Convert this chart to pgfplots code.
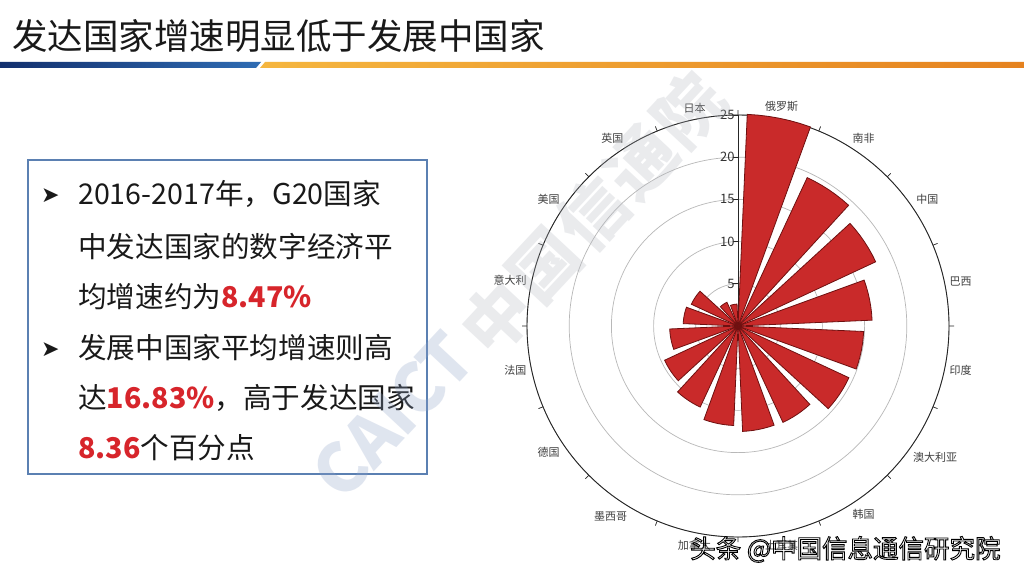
\documentclass[border=0pt]{standalone}
\usepackage{pgfplots}
\pgfplotsset{compat=1.18}
\usepgfplotslibrary{polar}
\usepackage{fontspec}
\setmainfont{Noto Sans CJK SC}
\newfontfamily\dejavu{DejaVu Sans}
\definecolor{barred}{HTML}{C92A2A}
\definecolor{bardark}{HTML}{6E1010}
\definecolor{numred}{HTML}{D7252B}
\definecolor{boxblue}{HTML}{5B80B2}
\definecolor{navy}{HTML}{13306E}
\definecolor{navy2}{HTML}{2F6CB3}
\definecolor{org1}{HTML}{F5B63F}
\definecolor{org2}{HTML}{E5821F}
\definecolor{wmgray}{HTML}{B4B8C0}
\definecolor{wmblue}{HTML}{8FA3C8}
\pgfplotsset{rosebar/.style={fill=barred, draw=bardark, line width=0.8pt, mark=none}}
\begin{document}
\begin{tikzpicture}[x=1pt,y=1pt]
\path[use as bounding box, fill=white] (0,0) rectangle (1024,576);
% title
\node[anchor=base west, inner sep=0, text=black!90] at (12,526) {\fontsize{35.5}{35.5}\selectfont 发达国家增速明显低于发展中国家};
\shade[left color=navy, right color=navy2] (0,508) -- (256,508) -- (261,514) -- (0,514) -- cycle;
\shade[left color=org1, right color=org2] (260,508) -- (1024,508) -- (1024,514) -- (265,514) -- cycle;
% text box
\draw[boxblue, line width=2.2pt] (28,102) rectangle (427,416);
\begin{scope}[every node/.style={anchor=base west, inner sep=0, font=\fontsize{28.6}{28.6}\selectfont, text=black!90}]
\node at (41,373) {\dejavu\fontsize{22}{22}\selectfont ➤};
\node at (41,220) {\dejavu\fontsize{22}{22}\selectfont ➤};
\node at (78,371) {2016-2017年，G20国家};
\node at (78,318) {中发达国家的数字经济平};
\node at (78,268) {均增速约为\textcolor{numred}{\bfseries 8.47\%}};
\node at (78,218) {发展中国家平均增速则高};
\node at (78,168) {达\textcolor{numred}{\bfseries 16.83\%}，高于发达国家};
\node at (78,118) {\textcolor{numred}{\bfseries 8.36}个百分点};
\end{scope}
% polar rose chart
\begin{polaraxis}[
  at={(738pt,250pt)}, anchor=center,
  scale only axis, width=422pt, height=422pt,
  xmin=90, xmax=450, ymin=0, ymax=25,
  clip=false,
  xtick={90,112.5,135,157.5,180,202.5,225,247.5,270,292.5,315,337.5,360,382.5,405,427.5},
  xticklabels={},
  extra x ticks={101.25,123.75,146.25,168.75,191.25,213.75,236.25,258.75,281.25,303.75,326.25,348.75,371.25,393.75,416.25,438.75},
  extra x tick labels={日本,英国,美国,意大利,法国,德国,墨西哥,加拿大,土耳其,韩国,澳大利亚,印度,巴西,中国,南非,俄罗斯},
  extra x tick style={major tick length=0pt, grid=none},
  xmajorgrids=false,
  ytick={5,10,15,20,25},
  ymajorgrids=true,
  y grid style={black!28, line width=0.7pt},
  axis line style={black!85, line width=0.9pt},
  major tick length=5pt,
  tick style={black!85, line width=0.7pt},
  xticklabel style={font=\fontsize{11}{11}\selectfont, text=black!75},
  yticklabel style={font=\fontsize{13}{13}\selectfont, text=black!80},
  /pgf/number format/assume math mode=true,
]
% 日本 2.6
\addplot[rosebar] coordinates {(92.5,0) (92.5,2.6) (95.42,2.6) (98.33,2.6) (101.25,2.6) (104.17,2.6) (107.08,2.6) (110,2.6) (110,0)};
% 英国 3.1
\addplot[rosebar] coordinates {(115,0) (115,3.1) (117.92,3.1) (120.83,3.1) (123.75,3.1) (126.67,3.1) (129.58,3.1) (132.5,3.1) (132.5,0)};
% 美国 6.1
\addplot[rosebar] coordinates {(137.5,0) (137.5,6.1) (140.42,6.1) (143.33,6.1) (146.25,6.1) (149.17,6.1) (152.08,6.1) (155,6.1) (155,0)};
% 意大利 6.5
\addplot[rosebar] coordinates {(160,0) (160,6.5) (162.92,6.5) (165.83,6.5) (168.75,6.5) (171.67,6.5) (174.58,6.5) (177.5,6.5) (177.5,0)};
% 法国 8.1
\addplot[rosebar] coordinates {(182.5,0) (182.5,8.1) (185.42,8.1) (188.33,8.1) (191.25,8.1) (194.17,8.1) (197.08,8.1) (200,8.1) (200,0)};
% 德国 9.6
\addplot[rosebar] coordinates {(205,0) (205,9.6) (207.92,9.6) (210.83,9.6) (213.75,9.6) (216.67,9.6) (219.58,9.6) (222.5,9.6) (222.5,0)};
% 墨西哥 10.6
\addplot[rosebar] coordinates {(227.5,0) (227.5,10.6) (230.42,10.6) (233.33,10.6) (236.25,10.6) (239.17,10.6) (242.08,10.6) (245,10.6) (245,0)};
% 加拿大 11.8
\addplot[rosebar] coordinates {(250,0) (250,11.8) (252.92,11.8) (255.83,11.8) (258.75,11.8) (261.67,11.8) (264.58,11.8) (267.5,11.8) (267.5,0)};
% 土耳其 12.5
\addplot[rosebar] coordinates {(272.5,0) (272.5,12.5) (275.42,12.5) (278.33,12.5) (281.25,12.5) (284.17,12.5) (287.08,12.5) (290,12.5) (290,0)};
% 韩国 12.6
\addplot[rosebar] coordinates {(295,0) (295,12.6) (297.92,12.6) (300.83,12.6) (303.75,12.6) (306.67,12.6) (309.58,12.6) (312.5,12.6) (312.5,0)};
% 澳大利亚 14.5
\addplot[rosebar] coordinates {(317.5,0) (317.5,14.5) (320.42,14.5) (323.33,14.5) (326.25,14.5) (329.17,14.5) (332.08,14.5) (335,14.5) (335,0)};
% 印度 14.9
\addplot[rosebar] coordinates {(340,0) (340,14.9) (342.92,14.9) (345.83,14.9) (348.75,14.9) (351.67,14.9) (354.58,14.9) (357.5,14.9) (357.5,0)};
% 巴西 15.9
\addplot[rosebar] coordinates {(362.5,0) (362.5,15.9) (365.42,15.9) (368.33,15.9) (371.25,15.9) (374.17,15.9) (377.08,15.9) (380,15.9) (380,0)};
% 中国 18.0
\addplot[rosebar] coordinates {(385,0) (385,18.0) (387.92,18.0) (390.83,18.0) (393.75,18.0) (396.67,18.0) (399.58,18.0) (402.5,18.0) (402.5,0)};
% 南非 19.4
\addplot[rosebar] coordinates {(407.5,0) (407.5,19.4) (410.42,19.4) (413.33,19.4) (416.25,19.4) (419.17,19.4) (422.08,19.4) (425,19.4) (425,0)};
% 俄罗斯 25.1
\addplot[rosebar] coordinates {(430,0) (430,25.1) (432.92,25.1) (435.83,25.1) (438.75,25.1) (441.67,25.1) (444.58,25.1) (447.5,25.1) (447.5,0)};
\end{polaraxis}
% watermark (faint, one glyph per node)
\begin{scope}[every node/.style={rotate=47, opacity=0.28, inner sep=0}]
\node[text=wmgray] at (497,258) {\fontsize{68}{68}\selectfont\bfseries 中};
\node[text=wmgray] at (545,310) {\fontsize{68}{68}\selectfont\bfseries 国};
\node[text=wmgray] at (593,362) {\fontsize{68}{68}\selectfont\bfseries 信};
\node[text=wmgray] at (641,414) {\fontsize{68}{68}\selectfont\bfseries 通};
\node[text=wmgray] at (689,466) {\fontsize{68}{68}\selectfont\bfseries 院};
\node[text=wmblue] at (340,106) {\fontsize{68}{68}\selectfont\bfseries C};
\node[text=wmblue] at (371,138) {\fontsize{68}{68}\selectfont\bfseries A};
\node[text=wmblue] at (394,162) {\fontsize{68}{68}\selectfont\bfseries I};
\node[text=wmblue] at (417,186) {\fontsize{68}{68}\selectfont\bfseries C};
\node[text=wmblue] at (446,216) {\fontsize{68}{68}\selectfont\bfseries T};
\end{scope}
% footer: outlined text (stroke only, white paper shows through)
\node[anchor=base west, inner sep=0, text=black] at (690,18) {\fontsize{25.5}{25.5}\selectfont\special{pdf:literal direct 0 G 1 Tr 0.9 w}头条 @中国信息通信研究院\special{pdf:literal direct 0 Tr}};
\end{tikzpicture}
\end{document}
